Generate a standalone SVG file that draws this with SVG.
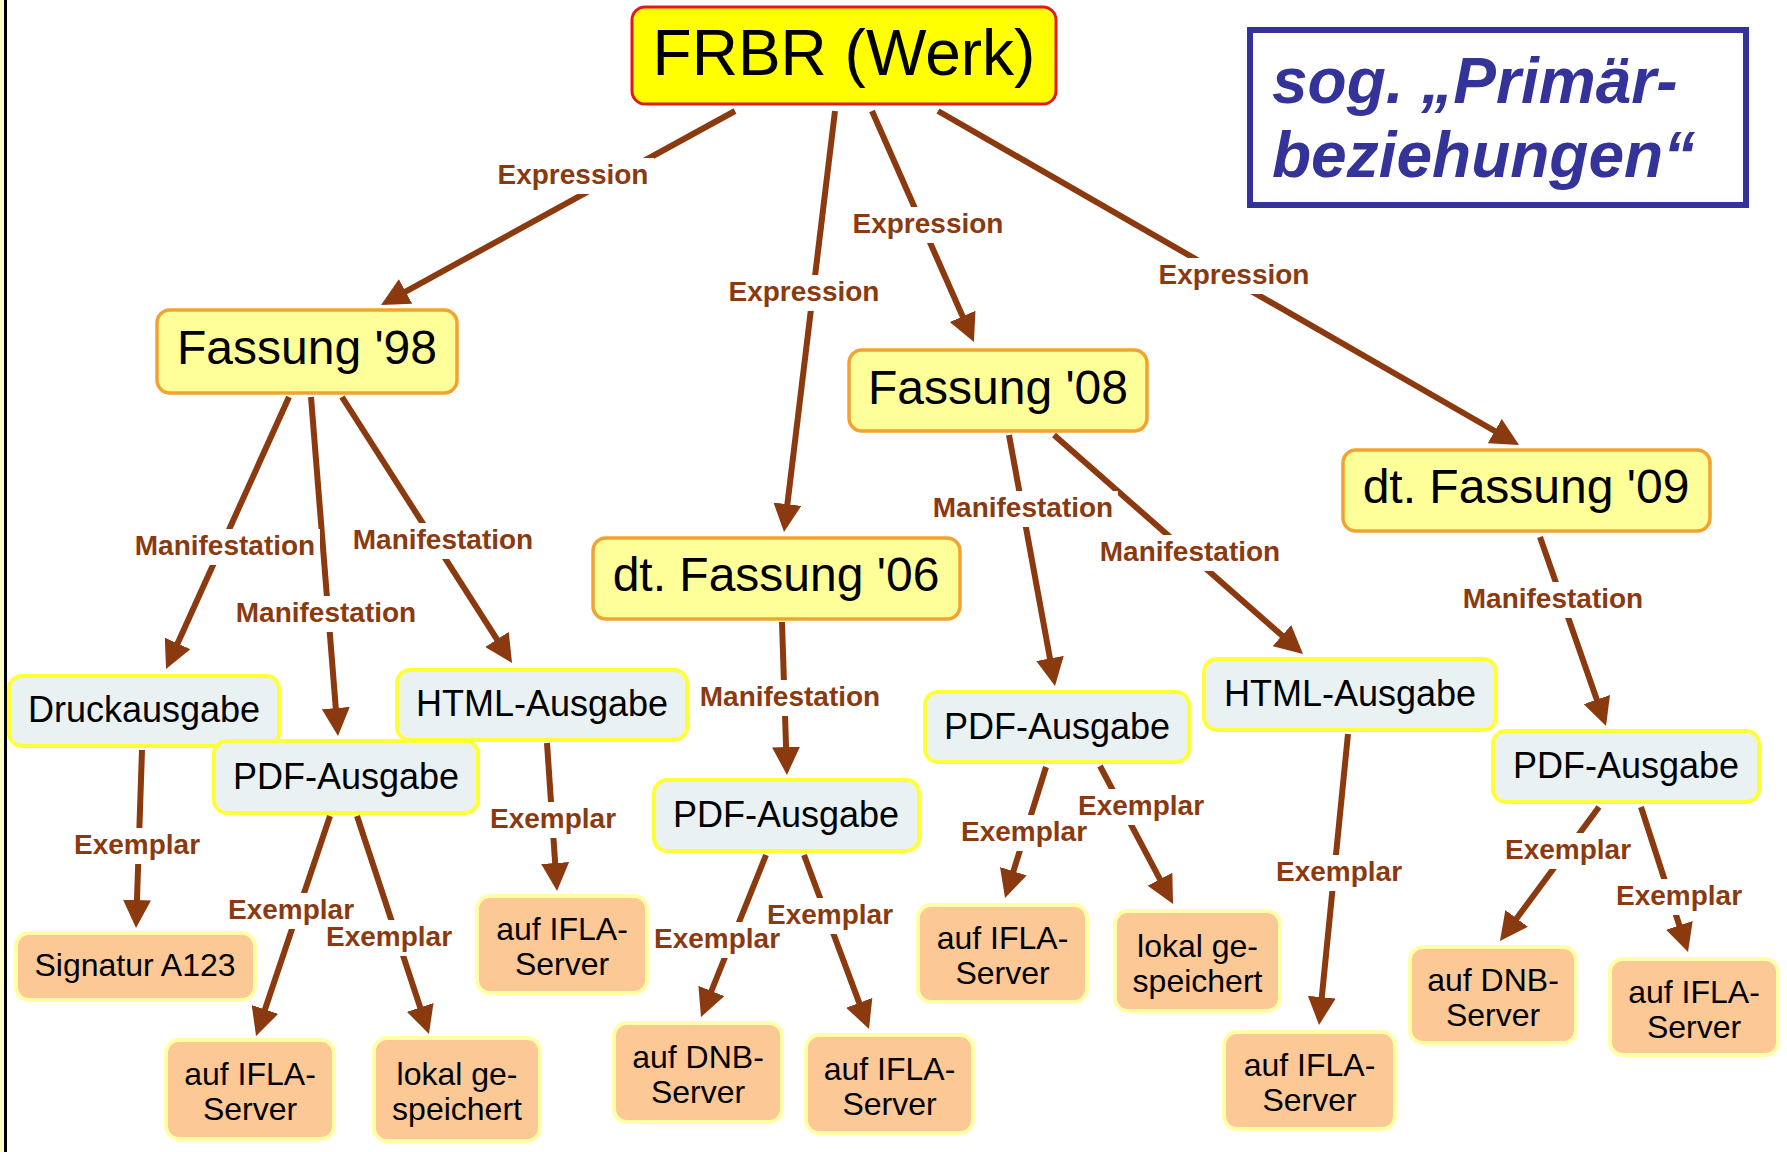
<svg xmlns="http://www.w3.org/2000/svg" width="1787" height="1152" viewBox="0 0 1787 1152">
<defs>
<style>
.n text{font-family:"Liberation Sans",Arial,sans-serif;fill:#000;text-anchor:middle}
.werk rect{fill:#ffff00;stroke:#e3181c;stroke-width:3}
.fass rect{fill:#ffff99;stroke:#f2a230;stroke-width:3.5}
.ausg rect{fill:#e9f1f3;stroke:#ffff38;stroke-width:4}
.leaf rect{fill:#fbc896;stroke:#ffffa8;stroke-width:4}
.werk text{font-size:64px}
.fass text{font-size:48px}
.ausg text{font-size:36px}
.leaf text{font-size:32px}
.c line{stroke:#8b3a0f;stroke-width:6;marker-end:url(#ah)}
.lbl text{font-family:"Liberation Sans",Arial,sans-serif;font-weight:bold;font-size:28px;fill:#8b3a10;text-anchor:middle}
.title text{font-family:"Liberation Sans",Arial,sans-serif;font-weight:bold;font-style:italic;font-size:64px;fill:#333399}
</style>
<marker id="ah" markerUnits="userSpaceOnUse" viewBox="0 0 28 28" markerWidth="28" markerHeight="28" refX="14" refY="14" orient="auto">
<path d="M0,0 L28,14 L0,28 z" fill="#8b3a0f"/>
</marker>
<mask id="gap" maskUnits="userSpaceOnUse" x="0" y="0" width="1787" height="1152">
<rect x="0" y="0" width="1787" height="1152" fill="#fff"/>
<g fill="#000">
<rect x="492" y="158" width="162" height="36"/>
<rect x="723" y="275" width="162" height="36"/>
<rect x="847" y="207" width="162" height="36"/>
<rect x="1153" y="258" width="162" height="36"/>
<rect x="130" y="529" width="190" height="36"/>
<rect x="231" y="596" width="190" height="36"/>
<rect x="348" y="523" width="190" height="36"/>
<rect x="695" y="680" width="190" height="36"/>
<rect x="928" y="491" width="190" height="36"/>
<rect x="1095" y="535" width="190" height="36"/>
<rect x="1458" y="582" width="190" height="36"/>
<rect x="69" y="828" width="136" height="36"/>
<rect x="223" y="893" width="136" height="36"/>
<rect x="321" y="920" width="136" height="36"/>
<rect x="485" y="802" width="136" height="36"/>
<rect x="649" y="922" width="136" height="36"/>
<rect x="762" y="898" width="136" height="36"/>
<rect x="956" y="815" width="136" height="36"/>
<rect x="1073" y="789" width="136" height="36"/>
<rect x="1271" y="855" width="136" height="36"/>
<rect x="1500" y="833" width="136" height="36"/>
<rect x="1611" y="879" width="136" height="36"/>
</g>
</mask>
</defs>
<rect x="0" y="0" width="1787" height="1152" fill="#fff"/>
<rect x="0" y="0" width="4" height="1152" fill="#ffffc8"/>
<rect x="4" y="0" width="3" height="1152" fill="#000"/>

<g id="connectors" class="c" mask="url(#gap)">
<line x1="735" y1="111" x2="393.3" y2="298.3"/>
<line x1="835" y1="111" x2="785.7" y2="518.1"/>
<line x1="872" y1="111" x2="968.3" y2="329.2"/>
<line x1="938" y1="111" x2="1506.9" y2="438"/>
<line x1="289" y1="397" x2="171.8" y2="656.2"/>
<line x1="311" y1="397" x2="336.9" y2="722"/>
<line x1="342" y1="397" x2="504.5" y2="651.2"/>
<line x1="782" y1="622" x2="786.5" y2="761"/>
<line x1="1009" y1="435" x2="1052.5" y2="672.2"/>
<line x1="1054" y1="435" x2="1292.5" y2="644.8"/>
<line x1="1540" y1="537" x2="1601.4" y2="712.8"/>
<line x1="142" y1="750" x2="136.5" y2="914"/>
<line x1="330" y1="816" x2="260.5" y2="1022.7"/>
<line x1="357" y1="816" x2="424.6" y2="1020.7"/>
<line x1="547" y1="743" x2="556.1" y2="877"/>
<line x1="766" y1="855" x2="706.2" y2="1004"/>
<line x1="804" y1="855" x2="864.1" y2="1015.9"/>
<line x1="1046" y1="767" x2="1009.2" y2="884.6"/>
<line x1="1100" y1="766" x2="1166.5" y2="891.6"/>
<line x1="1348" y1="734" x2="1320.4" y2="1011.1"/>
<line x1="1599" y1="807" x2="1508.3" y2="929.7"/>
<line x1="1641" y1="807" x2="1683.7" y2="938.7"/>
</g>

<g id="labels" class="lbl">
<text x="573" y="184">Expression</text>
<text x="804" y="301">Expression</text>
<text x="928" y="233">Expression</text>
<text x="1234" y="284">Expression</text>
<text x="225" y="555">Manifestation</text>
<text x="326" y="622">Manifestation</text>
<text x="443" y="549">Manifestation</text>
<text x="790" y="706">Manifestation</text>
<text x="1023" y="517">Manifestation</text>
<text x="1190" y="561">Manifestation</text>
<text x="1553" y="608">Manifestation</text>
<text x="137" y="854">Exemplar</text>
<text x="291" y="919">Exemplar</text>
<text x="389" y="946">Exemplar</text>
<text x="553" y="828">Exemplar</text>
<text x="717" y="948">Exemplar</text>
<text x="830" y="924">Exemplar</text>
<text x="1024" y="841">Exemplar</text>
<text x="1141" y="815">Exemplar</text>
<text x="1339" y="881">Exemplar</text>
<text x="1568" y="859">Exemplar</text>
<text x="1679" y="905">Exemplar</text>
</g>

<g id="werk" class="n werk"><rect x="632" y="7" width="424" height="97" rx="13"/><text x="844" y="75">FRBR (Werk)</text></g>
<g id="fassung98" class="n fass"><rect x="157" y="310" width="300" height="83" rx="13"/><text x="307" y="364">Fassung '98</text></g>
<g id="fassung08" class="n fass"><rect x="849" y="350" width="298" height="81" rx="13"/><text x="998" y="404">Fassung '08</text></g>
<g id="dtfassung06" class="n fass"><rect x="593" y="538" width="367" height="81" rx="13"/><text x="776" y="591">dt. Fassung '06</text></g>
<g id="dtfassung09" class="n fass"><rect x="1343" y="450" width="367" height="81" rx="13"/><text x="1526" y="503">dt. Fassung '09</text></g>

<g id="druck98" class="n ausg"><rect x="9" y="676" width="270" height="70" rx="13"/><text x="144" y="722">Druckausgabe</text></g>
<g id="pdf98" class="n ausg"><rect x="214" y="741" width="264" height="72" rx="13"/><text x="346" y="789">PDF-Ausgabe</text></g>
<g id="html98" class="n ausg"><rect x="397" y="670" width="290" height="70" rx="13"/><text x="542" y="716">HTML-Ausgabe</text></g>
<g id="pdf06" class="n ausg"><rect x="654" y="780" width="265" height="71" rx="13"/><text x="786" y="827">PDF-Ausgabe</text></g>
<g id="pdf08" class="n ausg"><rect x="925" y="692" width="264" height="70" rx="13"/><text x="1057" y="739">PDF-Ausgabe</text></g>
<g id="html08" class="n ausg"><rect x="1204" y="659" width="292" height="71" rx="13"/><text x="1350" y="706">HTML-Ausgabe</text></g>
<g id="pdf09" class="n ausg"><rect x="1493" y="731" width="266" height="71" rx="13"/><text x="1626" y="778">PDF-Ausgabe</text></g>

<g id="signatur" class="n leaf"><rect x="16" y="933" width="239" height="67" rx="13"/><text x="135" y="976">Signatur A123</text></g>
<g id="ifla98pdf" class="n leaf"><rect x="166" y="1040" width="168" height="99" rx="13"/><text x="250" y="1085">auf IFLA-</text><text x="250" y="1120">Server</text></g>
<g id="lokal98" class="n leaf"><rect x="374" y="1038" width="166" height="103" rx="13"/><text x="457" y="1085">lokal ge-</text><text x="457" y="1120">speichert</text></g>
<g id="ifla98html" class="n leaf"><rect x="477" y="896" width="170" height="97" rx="13"/><text x="562" y="940">auf IFLA-</text><text x="562" y="975">Server</text></g>
<g id="dnb06" class="n leaf"><rect x="614" y="1023" width="168" height="99" rx="13"/><text x="698" y="1068">auf DNB-</text><text x="698" y="1103">Server</text></g>
<g id="ifla06" class="n leaf"><rect x="806" y="1035" width="167" height="98" rx="13"/><text x="889.5" y="1080">auf IFLA-</text><text x="889.5" y="1115">Server</text></g>
<g id="ifla08pdf" class="n leaf"><rect x="918" y="905" width="169" height="97" rx="13"/><text x="1002.5" y="949">auf IFLA-</text><text x="1002.5" y="984">Server</text></g>
<g id="lokal08" class="n leaf"><rect x="1115" y="911" width="165" height="100" rx="13"/><text x="1197.5" y="957">lokal ge-</text><text x="1197.5" y="992">speichert</text></g>
<g id="ifla08html" class="n leaf"><rect x="1224" y="1032" width="171" height="97" rx="13"/><text x="1309.5" y="1076">auf IFLA-</text><text x="1309.5" y="1111">Server</text></g>
<g id="dnb09" class="n leaf"><rect x="1410" y="947" width="166" height="96" rx="13"/><text x="1493" y="991">auf DNB-</text><text x="1493" y="1026">Server</text></g>
<g id="ifla09" class="n leaf"><rect x="1610" y="959" width="168" height="96" rx="13"/><text x="1694" y="1003">auf IFLA-</text><text x="1694" y="1038">Server</text></g>

<g id="title" class="title">
<rect x="1250" y="30" width="496" height="175" fill="none" stroke="#333399" stroke-width="6"/>
<text x="1272" y="103">sog. „Primär-</text>
<text x="1272" y="177">beziehungen“</text>
</g>
</svg>
